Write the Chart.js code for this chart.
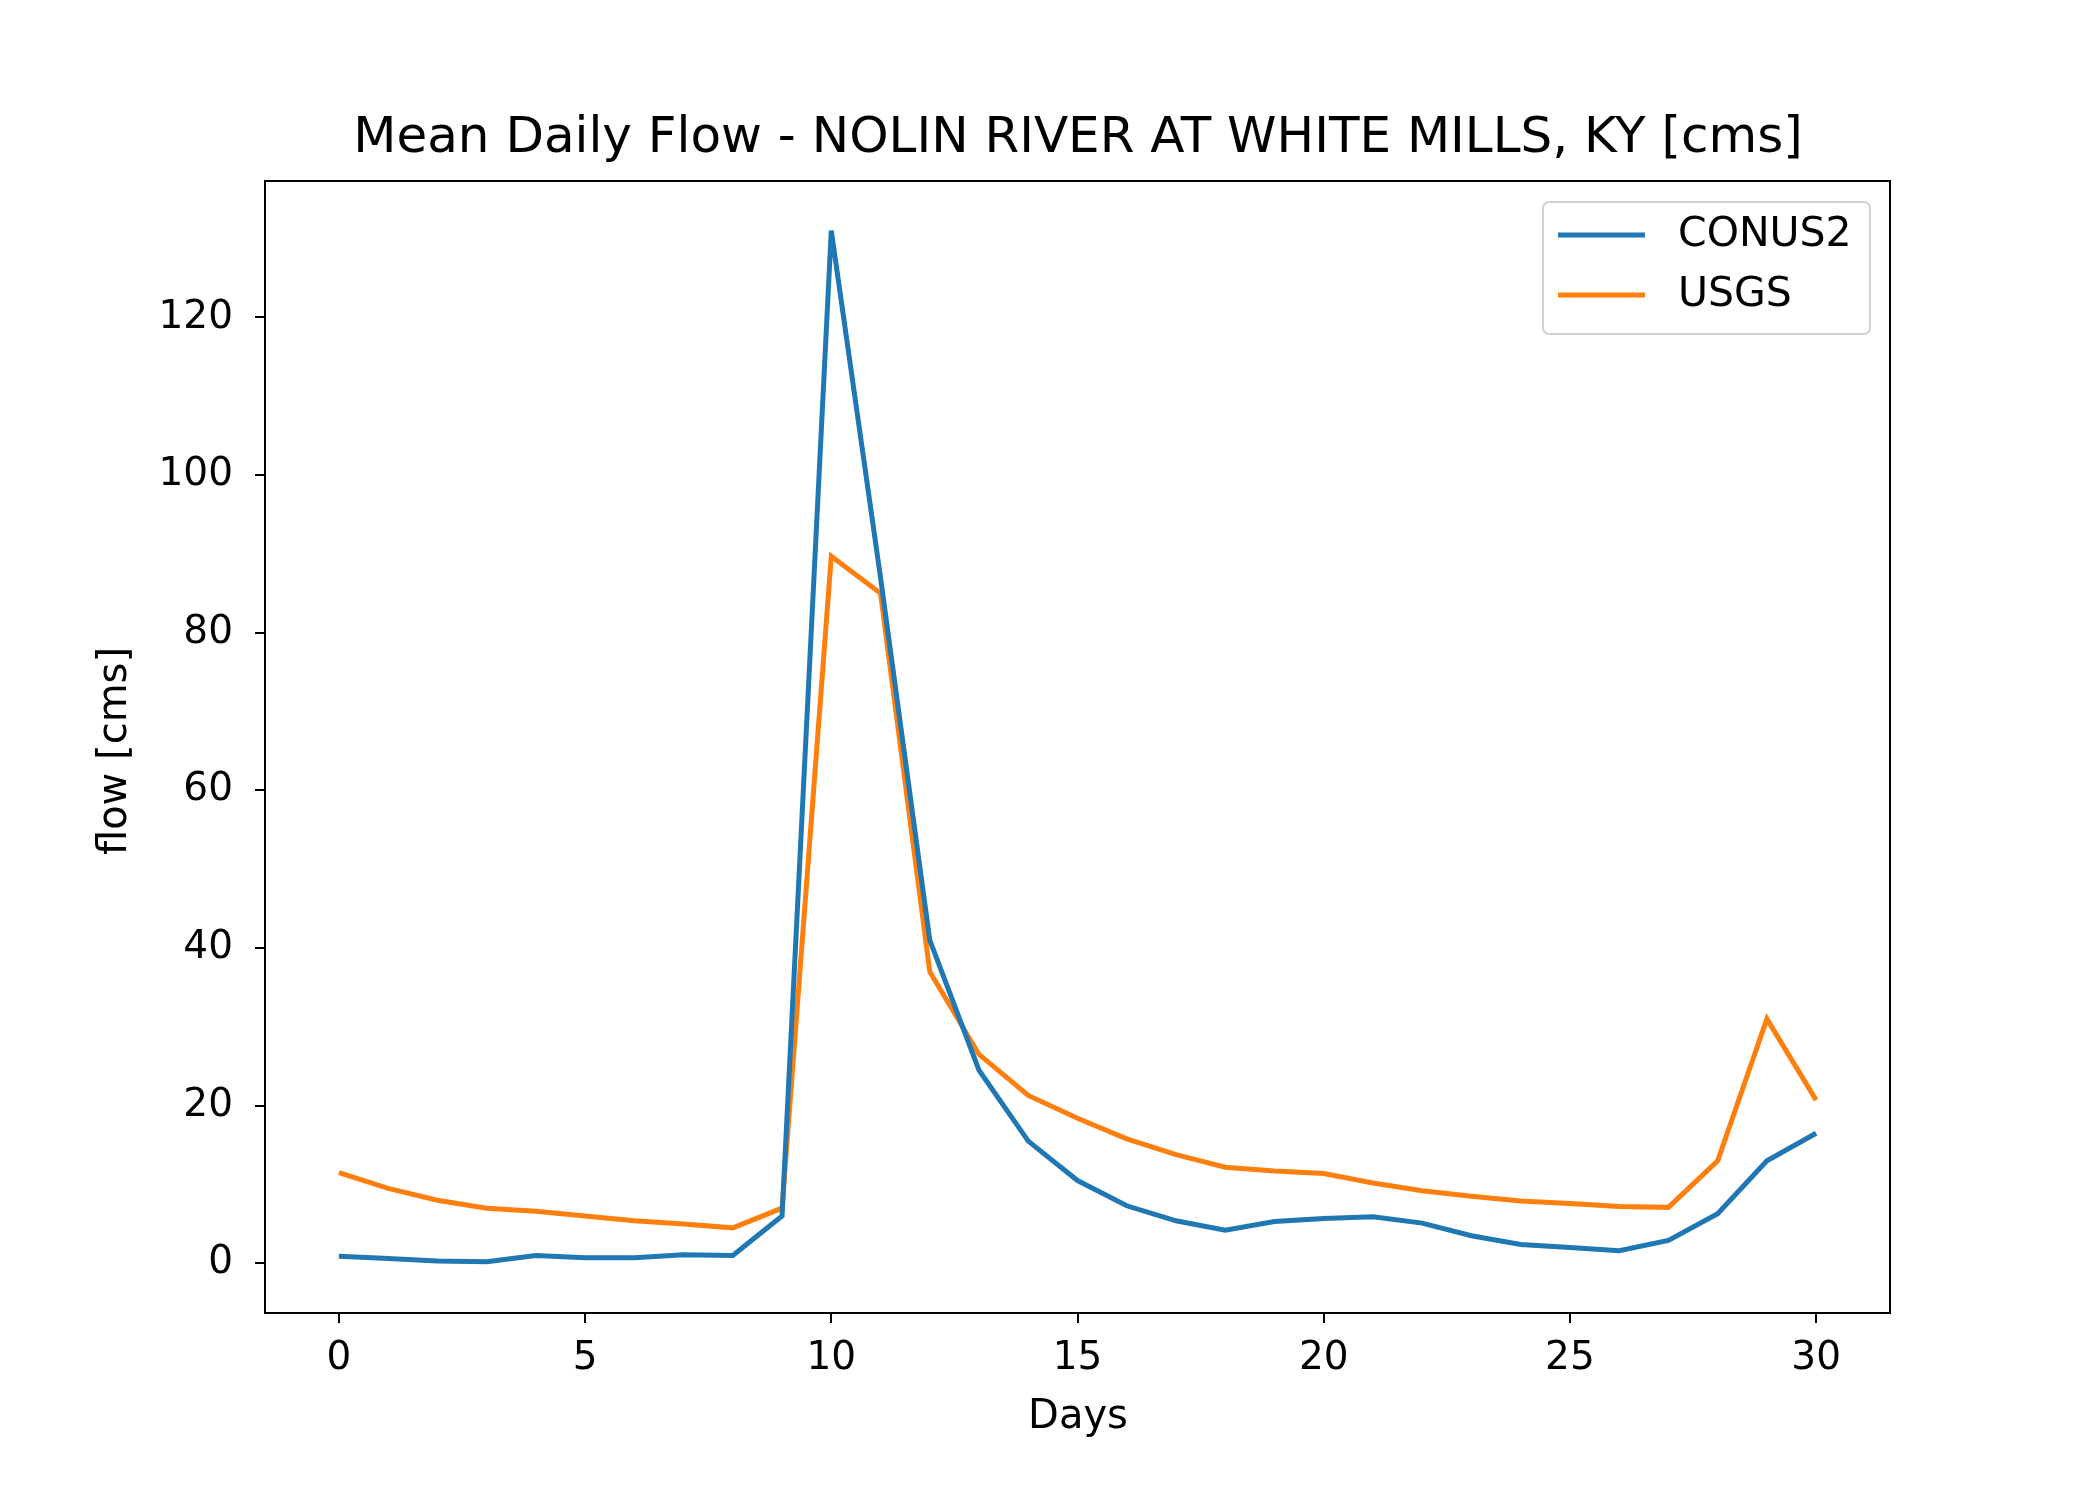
<!DOCTYPE html>
<html>
<head>
<meta charset="utf-8">
<script src="https://cdn.jsdelivr.net/npm/chart.js@4"></script>
<style>
  body { margin: 0; background: #fff; }
  canvas { display: block; }
</style>
</head>
<body>
<canvas id="flowChart" width="2100" height="1500"></canvas>
<script>
const days = [0,1,2,3,4,5,6,7,8,9,10,11,12,13,14,15,16,17,18,19,20,21,22,23,24,25,26,27,28,29,30];
const conus2 = [0.9,0.6,0.3,0.2,1.0,0.7,0.7,1.1,1.0,6,131,87,41,24.5,15.5,10.5,7.3,5.4,4.2,5.3,5.7,5.9,5.1,3.5,2.4,2.0,1.6,2.9,6.3,13,16.5];
const usgs = [11.5,9.5,8,7,6.6,6.0,5.4,5.0,4.5,7,89.7,85,37,26.5,21.3,18.4,15.8,13.8,12.2,11.7,11.4,10.2,9.2,8.5,7.9,7.6,7.2,7.1,13,31,20.7];
const xTicks = [0,5,10,15,20,25,30];
const yTicks = [0,20,40,60,80,100,120];

const FONT = "'DejaVu Sans', sans-serif";
const BLUE = "#1f77b4";
const ORANGE = "#ff7f0e";

const toPoints = (arr) => arr.map((v, i) => ({ x: days[i], y: v }));

// frame, title, axis labels, legend
const decorations = {
  id: "decorations",
  afterDraw(chart) {
    const { ctx, chartArea: a } = chart;
    ctx.save();
    ctx.strokeStyle = "#000";
    ctx.lineWidth = 2;
    ctx.strokeRect(a.left, a.top, a.right - a.left, a.bottom - a.top);

    ctx.fillStyle = "#000";
    ctx.textAlign = "center";
    ctx.textBaseline = "middle";
    ctx.font = "50px " + FONT;
    ctx.fillText("Mean Daily Flow - NOLIN RIVER AT WHITE MILLS, KY [cms]", 1078, 139);
    ctx.font = "40px " + FONT;
    ctx.fillText("Days", 1078, 1418);
    ctx.save();
    ctx.translate(116, 751);
    ctx.rotate(-Math.PI / 2);
    ctx.fillText("flow [cms]", 0, 0);
    ctx.restore();

    // legend
    ctx.fillStyle = "rgba(255,255,255,0.8)";
    ctx.strokeStyle = "#d0d0d0";
    ctx.lineWidth = 2;
    ctx.beginPath();
    ctx.roundRect(1543, 202, 327, 132, 6);
    ctx.fill();
    ctx.stroke();
    ctx.font = "41px " + FONT;
    ctx.textAlign = "left";
    [["CONUS2", BLUE, 235], ["USGS", ORANGE, 295]].forEach(([label, color, y]) => {
      ctx.strokeStyle = color;
      ctx.lineWidth = 5;
      ctx.beginPath();
      ctx.moveTo(1558, y);
      ctx.lineTo(1645, y);
      ctx.stroke();
      ctx.fillStyle = "#000";
      ctx.fillText(label, 1678, y);
    });
    ctx.restore();
  }
};

new Chart(document.getElementById("flowChart"), {
  type: "line",
  data: {
    datasets: [
      { label: "CONUS2", data: toPoints(conus2), borderColor: BLUE, borderWidth: 5, pointRadius: 0, tension: 0 },
      { label: "USGS", data: toPoints(usgs), borderColor: ORANGE, borderWidth: 5, pointRadius: 0, tension: 0 }
    ]
  },
  options: {
    responsive: false,
    animation: false,
    layout: { padding: { left: 0, right: 210, top: 181, bottom: 0 } },
    plugins: { legend: { display: false }, title: { display: false }, tooltip: { enabled: false } },
    scales: {
      x: {
        type: "linear",
        min: -1.5,
        max: 31.5,
        afterBuildTicks: (s) => { s.ticks = xTicks.map((v) => ({ value: v })); },
        afterFit: (s) => { s.height = 187; },
        grid: { drawOnChartArea: false, drawTicks: true, tickLength: 10, color: "#000", lineWidth: 2 },
        border: { display: false },
        ticks: { color: "#000", font: { family: FONT, size: 39 }, padding: 12, maxRotation: 0 }
      },
      y: {
        min: -6.3,
        max: 137.3,
        afterBuildTicks: (s) => { s.ticks = yTicks.map((v) => ({ value: v })); },
        afterFit: (s) => { s.width = 265; },
        grid: { drawOnChartArea: false, drawTicks: true, tickLength: 10, color: "#000", lineWidth: 2 },
        border: { display: false },
        ticks: { color: "#000", font: { family: FONT, size: 39 }, padding: 22 }
      }
    }
  },
  plugins: [decorations]
});
</script>
</body>
</html>
